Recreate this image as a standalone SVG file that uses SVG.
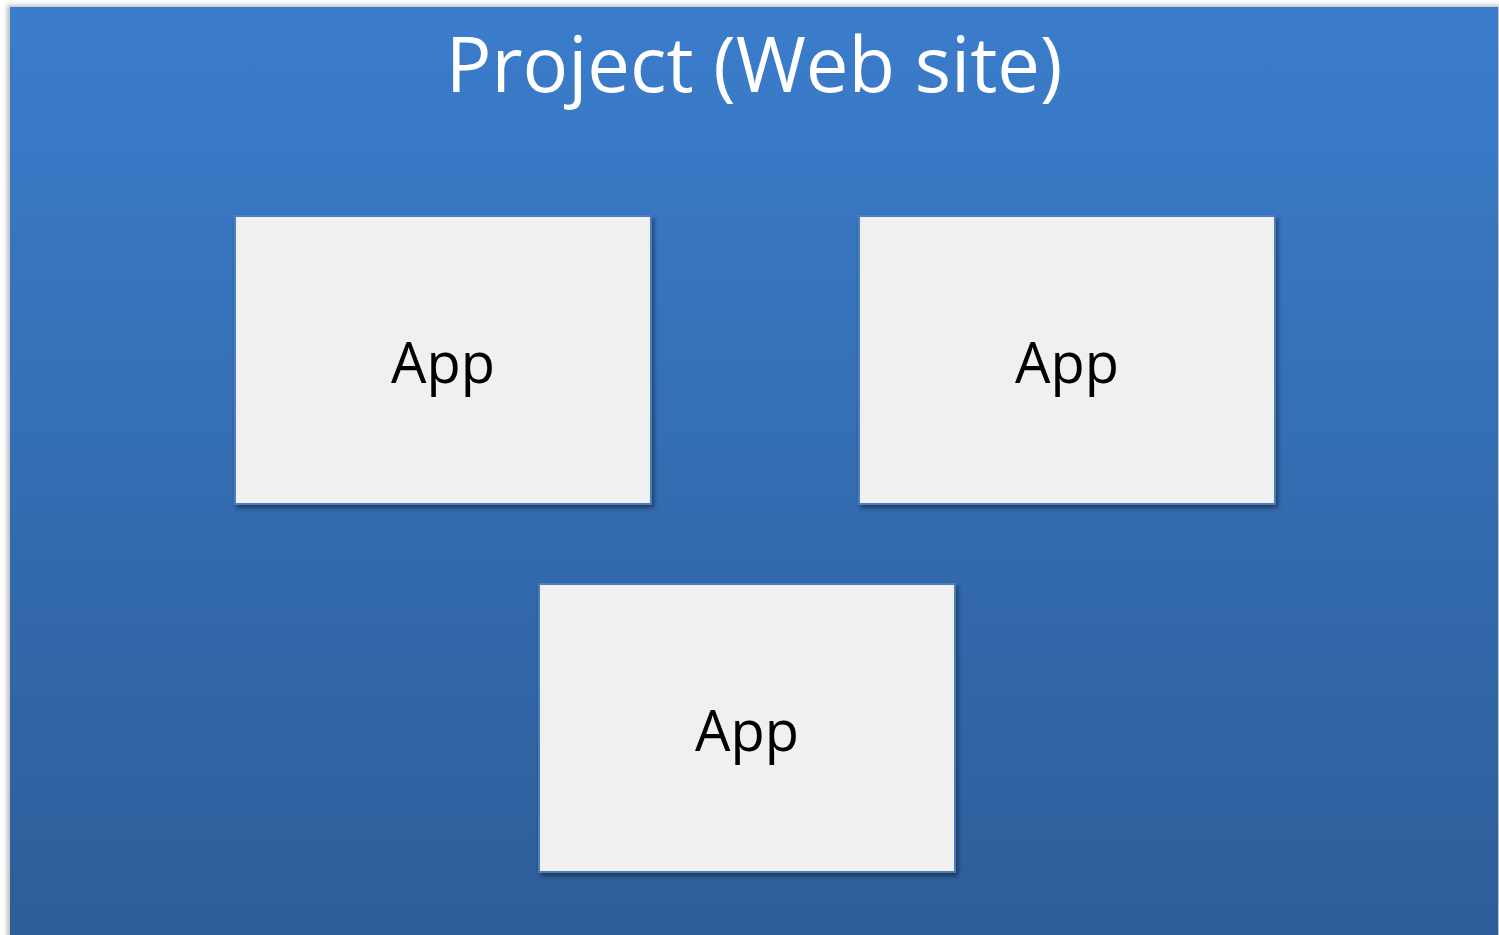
<svg xmlns="http://www.w3.org/2000/svg" width="1499" height="935" viewBox="0 0 1499 935">
  <defs>
    <linearGradient id="bg" x1="0" y1="0" x2="0" y2="1">
      <stop offset="0" stop-color="#3b7dcc"/>
      <stop offset="1" stop-color="#2d5d98"/>
    </linearGradient>
    <filter id="shadow" x="-10%" y="-10%" width="125%" height="125%">
      <feGaussianBlur in="SourceAlpha" stdDeviation="2.5"/>
      <feOffset dx="2" dy="3" result="b"/>
      <feComponentTransfer><feFuncA type="linear" slope="0.45"/></feComponentTransfer>
      <feMerge><feMergeNode/><feMergeNode in="SourceGraphic"/></feMerge>
    </filter>
    <filter id="soft" x="-50%" y="-50%" width="200%" height="200%">
      <feGaussianBlur stdDeviation="2"/>
    </filter>
    <style>
      .app rect { fill: #f0f0f0; stroke: #4a7ebf; stroke-width: 2; }
      .app text { font-family: "Open Sans", "Liberation Sans", sans-serif; font-size: 56px; fill: #000; text-anchor: middle; }
      .title { font-family: "Open Sans", "Liberation Sans", sans-serif; font-size: 76px; fill: #fff; text-anchor: middle; }
    </style>
  </defs>
  <rect width="1499" height="935" fill="#ffffff"/>
  <g id="project">
    <!-- soft edge shadow along the panel's left and top sides -->
    <rect x="7" y="5" width="1500" height="940" fill="#000" opacity="0.25" filter="url(#soft)"/>
    <rect x="10" y="7" width="1488" height="940" fill="url(#bg)"/>
    <text class="title" x="754" y="92">Project (Web site)</text>
  </g>
  <g id="app1" class="app" filter="url(#shadow)">
    <rect x="235" y="216" width="416" height="288"/>
    <text x="443" y="383">App</text>
  </g>
  <g id="app2" class="app" filter="url(#shadow)">
    <rect x="859" y="216" width="416" height="288"/>
    <text x="1067" y="383">App</text>
  </g>
  <g id="app3" class="app" filter="url(#shadow)">
    <rect x="539" y="584" width="416" height="288"/>
    <text x="747" y="751">App</text>
  </g>
  <g id="connectors"/>
</svg>
